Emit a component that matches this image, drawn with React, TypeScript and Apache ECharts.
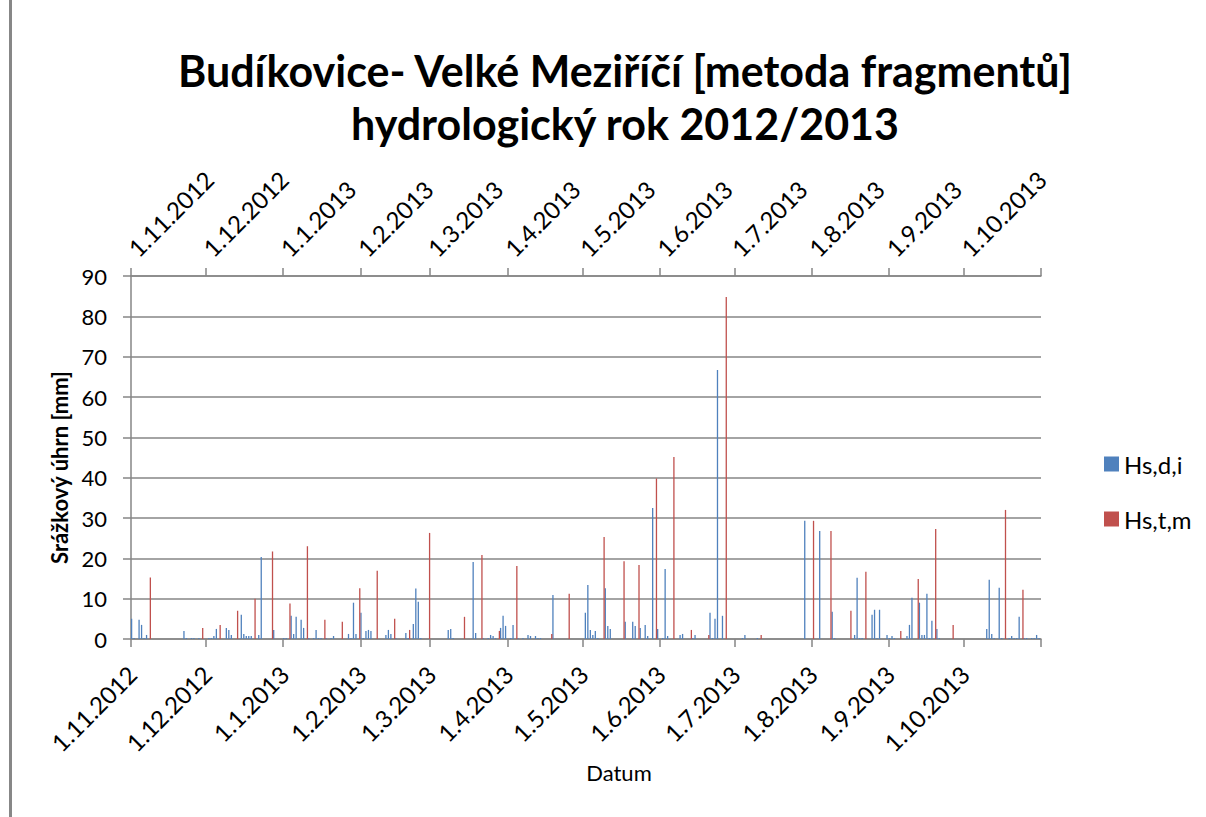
import React, { useEffect, useRef } from 'react';
import * as echarts from 'echarts';

// Hydrological year 2012/2013: 365 daily categories starting 1.11.2012
const START_DATE = [2012, 10, 1]; // year, month index (0-based), day
const DAY_COUNT = 365;

const TITLE_LINES = ['Budíkovice- Velké Meziříčí [metoda fragmentů]', 'hydrologický rok 2012/2013'];
const SERIES_NAMES = ['Hs,d,i', 'Hs,t,m'];
const Y_MIN = 0;
const Y_MAX = 90;
const Y_STEP = 10;

// [day index counted from 1.11.2012, precipitation in mm]
const hsDI: [number, number][] = [
  [0, 5.0], [1, 0.25], [3, 4.75], [4, 3.5], [5, 0.25], [6, 1.0],
  [21, 2.0], [22, 0.25], [24, 0.25], [25, 0.25], [27, 0.25], [31, 0.25], [32, 0.25], [33, 0.75], [34, 2.5],
  [38, 2.75], [39, 2.25], [40, 1.0], [44, 6.0], [45, 1.25], [46, 0.75], [47, 0.75], [48, 0.75], [51, 1.0], [52, 20.3], [57, 2.25],
  [61, 0.25], [62, 0.25], [64, 5.75], [65, 1.25], [66, 5.5], [68, 4.75], [69, 2.75], [71, 0.25], [73, 0.25], [74, 2.25],
  [75, 0.25], [76, 0.25], [78, 0.25], [80, 0.25], [81, 0.75],
  [87, 1.25], [88, 0.25], [89, 9.0], [90, 1.25], [92, 6.5], [93, 0.25], [94, 2.0], [95, 2.25], [96, 2.0],
  [102, 1.0], [103, 2.25], [104, 1.25], [106, 0.25], [110, 1.5], [111, 0.25], [113, 3.75], [114, 12.5], [115, 9.25], [116, 0.25],
  [127, 2.25], [128, 2.5], [129, 0.25], [137, 19.1], [138, 1.5], [141, 0.25], [143, 0.25], [144, 1.0], [145, 0.75], [146, 0.25],
  [148, 2.75], [149, 5.75], [150, 3.25], [152, 0.25], [153, 3.5], [155, 0.25], [157, 0.25], [159, 1.0], [160, 0.75], [162, 0.75],
  [163, 0.25], [164, 0.25], [169, 10.9],
  [182, 6.5], [183, 13.4], [184, 2.25], [185, 1.0], [186, 2.0], [187, 0.25], [190, 12.6], [191, 3.25], [192, 2.5], [198, 4.25],
  [201, 4.25], [202, 3.25], [204, 2.75], [206, 3.5], [207, 0.75], [209, 32.5], [211, 2.5], [213, 0.25], [214, 17.35], [215, 0.75],
  [220, 1.0], [221, 1.25], [225, 0.25], [226, 1.0], [232, 6.5], [233, 0.25], [234, 5.0], [235, 66.7], [237, 5.75],
  [245, 0.25], [246, 1.0], [251, 0.25], [270, 29.3], [276, 26.8], [281, 6.75], [282, 0.25], [290, 1.0], [291, 15.2], [292, 0.25],
  [293, 0.25], [297, 6.0], [298, 7.25], [299, 0.25], [300, 7.25], [303, 1.0], [304, 0.25],
  [305, 0.75], [306, 0.25], [311, 0.75], [312, 3.5], [313, 10.2], [316, 9.0], [317, 1.0], [318, 1.0], [319, 11.2], [320, 0.25],
  [321, 4.5], [323, 2.5], [324, 0.25],
  [343, 2.5], [344, 14.7], [345, 1.25], [346, 0.25], [348, 12.7], [349, 0.25], [352, 0.25], [353, 0.75], [354, 0.25], [355, 0.25],
  [356, 5.5], [358, 0.25], [359, 0.25], [361, 0.25], [362, 0.25], [363, 1.0], [364, 0.25],
];

const hsTM: [number, number][] = [
  [7, 15.25], [28, 2.75], [35, 3.5], [42, 7.0], [49, 10.0], [56, 21.7], [63, 8.8], [70, 23.0], [77, 4.75], [84, 4.25],
  [91, 12.6], [98, 16.9], [105, 5.0], [111, 2.25], [119, 26.3], [133, 5.5], [140, 20.8], [147, 2.0], [154, 18.1], [168, 1.25],
  [175, 11.2], [189, 25.3], [197, 19.3], [203, 18.35], [210, 39.8], [217, 45.1], [224, 2.25], [231, 1.0], [238, 84.8], [252, 1.0],
  [273, 29.3], [280, 26.8], [288, 7.0], [294, 16.7], [308, 2.0], [315, 14.9], [322, 27.3], [329, 3.5], [350, 32.0], [357, 12.2],
];

function buildDays(): string[] {
  const out: string[] = [];
  for (let i = 0; i < DAY_COUNT; i++) {
    const d = new Date(Date.UTC(START_DATE[0], START_DATE[1], START_DATE[2] + i));
    out.push(`${d.getUTCDate()}.${d.getUTCMonth() + 1}.${d.getUTCFullYear()}`);
  }
  return out;
}

const FONT = 'Lato, "Open Sans", sans-serif';
const GRID_GRAY = '#868686';

export default function App() {
  const ref = useRef<HTMLDivElement>(null);

  useEffect(() => {
    document.body.style.margin = '0';
    if (!ref.current) return;
    const chart = echarts.init(ref.current, undefined, { renderer: 'svg' });
    const days = buildDays();
    const isMonthStart = (_i: number, v: string) => v.split('.')[0] === '1';

    const axisLabelBase = { interval: isMonthStart, fontSize: 24, color: '#000', fontFamily: FONT };
    const xAxisBase = {
      type: 'category',
      data: days,
      boundaryGap: true,
      axisLine: { show: true, lineStyle: { color: GRID_GRAY, width: 1.5 } },
      axisTick: { show: true, interval: isMonthStart, length: 8, lineStyle: { color: GRID_GRAY, width: 1.5 } },
      splitLine: { show: false },
    };

    chart.setOption({
      animation: false,
      textStyle: { fontFamily: FONT },
      legend: {
        orient: 'vertical',
        left: 1104,
        top: 452,
        padding: 0,
        icon: 'rect',
        itemWidth: 15,
        itemHeight: 15,
        itemGap: 31,
        textStyle: { fontFamily: FONT, fontSize: 24, lineHeight: 15, color: '#000' },
        data: SERIES_NAMES,
      },
      grid: { left: 131, right: 165, top: 276, bottom: 178, containLabel: false },
      xAxis: [
        {
          ...xAxisBase,
          position: 'bottom',
          axisLabel: { ...axisLabelBase, rotate: 45, margin: 31 },
          name: 'Datum',
          nameLocation: 'middle',
          nameGap: 122,
          nameTextStyle: { fontFamily: FONT, fontSize: 22, color: '#000', padding: [0, 0, 0, 66] },
        },
        {
          ...xAxisBase,
          position: 'top',
          axisLabel: { ...axisLabelBase, rotate: -45, margin: 24 },
        },
      ],
      yAxis: {
        type: 'value',
        min: Y_MIN,
        max: Y_MAX,
        interval: Y_STEP,
        axisLine: { show: true, lineStyle: { color: GRID_GRAY, width: 1.5 } },
        axisTick: { show: true, length: 8, lineStyle: { color: GRID_GRAY, width: 1.5 } },
        axisLabel: { margin: 24, fontSize: 22, color: '#000', fontFamily: FONT },
        splitLine: { lineStyle: { color: GRID_GRAY, width: 1.5 } },
        name: 'Srážkový úhrn [mm]',
        nameLocation: 'middle',
        nameRotate: 90,
        nameGap: 57,
        nameTextStyle: { fontFamily: FONT, fontSize: 22, fontWeight: 'bold', color: '#000', padding: [0, 20, 0, 0] },
      },
      graphic: [
        { type: 'rect', shape: { x: 9, y: 0, width: 3, height: 817 }, style: { fill: '#878787' }, silent: true },
        {
          type: 'text', x: 625, y: 70, silent: true,
          style: { text: TITLE_LINES[0], fill: '#000', font: `bold 43px ${FONT}`, textAlign: 'center', textVerticalAlign: 'middle' },
        },
        {
          type: 'text', x: 625, y: 123, silent: true,
          style: { text: TITLE_LINES[1], fill: '#000', font: `bold 43px ${FONT}`, textAlign: 'center', textVerticalAlign: 'middle' },
        },
      ],
      series: [
        {
          name: SERIES_NAMES[0],
          type: 'bar',
          xAxisIndex: 0,
          barWidth: 1.3,
          barGap: '0%',
          itemStyle: { color: '#4F81BD' },
          data: hsDI.map(([i, v]) => [days[i], v]),
        },
        {
          name: SERIES_NAMES[1],
          type: 'bar',
          xAxisIndex: 0,
          barWidth: 1.3,
          barGap: '0%',
          itemStyle: { color: '#C0504D' },
          data: hsTM.map(([i, v]) => [days[i], v]),
        },
      ],
    });

    return () => chart.dispose();
  }, []);

  return <div ref={ref} style={{ width: 1206, height: 817 }} />;
}
